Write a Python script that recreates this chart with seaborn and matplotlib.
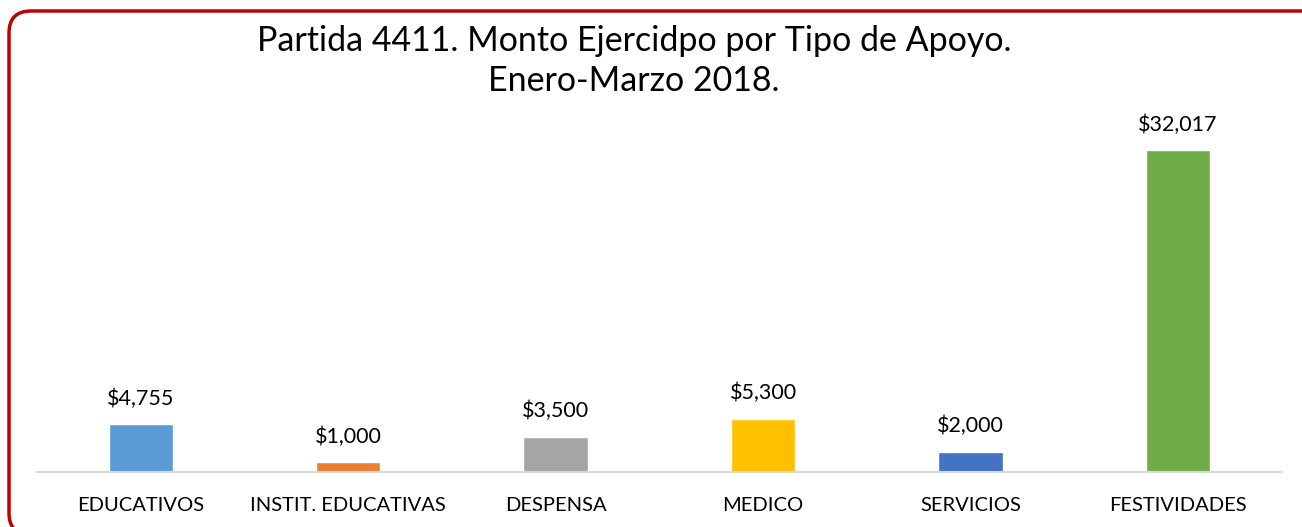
import matplotlib
matplotlib.use("Agg")
import matplotlib.pyplot as plt
import seaborn as sns
import pandas as pd
from matplotlib.patches import FancyBboxPatch

# Datos
TIPOS = ["EDUCATIVOS", "INSTIT. EDUCATIVAS", "DESPENSA", "MEDICO", "SERVICIOS", "FESTIVIDADES"]
MONTOS = [4755, 1000, 3500, 5300, 2000, 32017]
COLORES = ["#5B9BD5", "#ED7D31", "#A5A5A5", "#FFC000", "#4472C4", "#70AD47"]

TITULO = "Partida 4411. Monto Ejercidpo por Tipo de Apoyo.\nEnero-Marzo 2018."


def main():
    sns.set_theme(style="white")
    plt.rcParams['font.family'] = ['Lato', 'DejaVu Sans']

    df = pd.DataFrame({"tipo": TIPOS, "monto": MONTOS})

    fig = plt.figure(figsize=(13.02, 5.27), dpi=100)
    ax = fig.add_axes([0.0284, 0.1044, 0.956, 0.668])

    sns.barplot(data=df, x="tipo", y="monto", hue="tipo", palette=COLORES,
                legend=False, width=0.31, saturation=1, ax=ax)

    for i, v in enumerate(MONTOS):
        ax.annotate(f"${v:,}", (i, v), xytext=(0, 11), textcoords="offset points",
                    ha="center", va="bottom", fontsize=15.5, color="#000000")

    ax.set_ylim(0, 35000)
    ax.set_xlim(-0.5, len(TIPOS) - 0.5)
    ax.set_xlabel("")
    ax.set_ylabel("")
    ax.set_yticks([])
    ax.tick_params(axis="x", labelsize=14.5, colors="#000000", length=0, pad=18)
    for s in ["top", "left", "right"]:
        ax.spines[s].set_visible(False)
    ax.spines["bottom"].set_color("#D9D9D9")
    ax.spines["bottom"].set_linewidth(1.5)

    fig.text(634 / 1302, 1 - 61 / 527, TITULO, ha="center", va="center",
             fontsize=24.5, linespacing=1.3, color="#000000")

    # Borde redondeado rojo (el lado derecho queda fuera del lienzo)
    borde = FancyBboxPatch((9, -8), 1316, 524, boxstyle="round,pad=0,rounding_size=22",
                           transform=None, fill=False, edgecolor="#C00000", linewidth=2.5)
    fig.patches.append(borde)

    fig.savefig("out.png", dpi=100)


if __name__ == "__main__":
    main()
